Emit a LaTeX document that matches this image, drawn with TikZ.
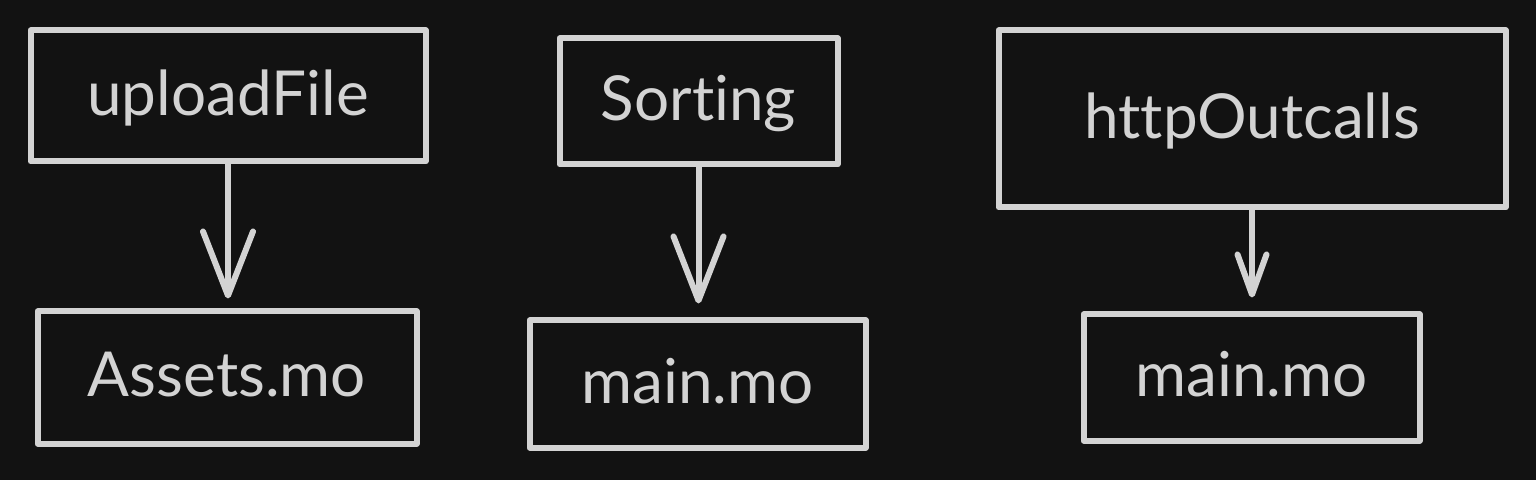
\documentclass[tikz,border=0pt]{standalone}
\usepackage{fontspec}
\setmainfont{Lato}[Ligatures=NoCommon]
\usetikzlibrary{arrows.meta}
\definecolor{bgdark}{HTML}{121212}
\definecolor{ink}{HTML}{D3D3D3}
\begin{document}
\begin{tikzpicture}[x=0.5pt, y=-0.5pt,
  box/.style={draw=ink, line width=3pt, line join=round, outer sep=0pt,
    text=ink, font=\fontsize{31}{36}\selectfont, inner sep=0pt,
    text height=22pt, text depth=2.5pt},
  flow/.style={draw=ink, line width=3pt, line cap=round,
    -{Straight Barb[length=32pt, width=25pt, line join=round, line cap=round]}},
  flowshort/.style={flow,
    -{Straight Barb[length=20pt, width=14.5pt, line join=round, line cap=round]}}]

% ----- Background -----
\fill[bgdark] (0,0) rectangle (1536,480);

% ----- Boxes -----
\node[box, minimum width=197.5pt, minimum height=65.5pt] (upload) at (228,96) {uploadFile};
\node[box, minimum width=189.5pt, minimum height=66pt] (assets) at (227,377.5) {Assets.mo};
\node[box, minimum width=139pt, minimum height=63pt] (sorting) at (698.5,101.5) {Sorting};
\node[box, minimum width=168pt, minimum height=63.5pt] (mainA) at (697.5,384) {main.mo};
\node[box, minimum width=253.5pt, minimum height=88.5pt] (http) at (1252,119) {httpOutcalls};
\node[box, minimum width=168pt, minimum height=63pt] (mainB) at (1251.5,377.5) {main.mo};

% ----- Arrows -----
\draw[flow, shorten >=6.5pt] (upload.south) -- (upload.south |- assets.north);
\draw[flow, shorten >=8.5pt] (sorting.south) -- (sorting.south |- mainA.north);
\draw[flowshort, shorten >=8.5pt] (http.south) -- (http.south |- mainB.north);
\end{tikzpicture}
\end{document}
